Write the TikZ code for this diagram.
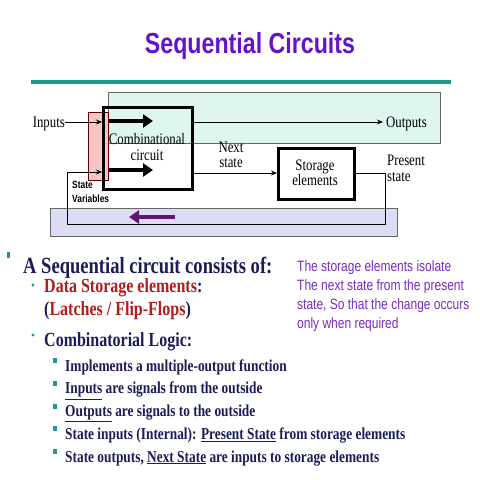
\documentclass[tikz,border=0pt]{standalone}
\usepackage{fontspec}
\usetikzlibrary{arrows.meta}
\newfontfamily\tnr{Liberation Serif}[FakeStretch=0.8]
\newfontfamily\arl{Liberation Sans}[FakeStretch=0.8]
\definecolor{tealline}{HTML}{1E9A8C}
\definecolor{mint}{HTML}{DFF6EF}
\definecolor{pinkbox}{HTML}{F6C6C6}
\definecolor{lavbox}{HTML}{DCDCF4}
\definecolor{arrowpurple}{HTML}{5E1670}
\definecolor{titlepurple}{HTML}{6414C8}
\definecolor{navy}{HTML}{1C1C5A}
\definecolor{darkred}{HTML}{B01E1E}
\definecolor{notepurple}{HTML}{7A2CBE}
\tikzset{
  thinline/.style={draw=black, line width=0.8pt},
  sig/.style={thinline, -{Stealth[length=6pt,width=5pt]}},
  bigarrow/.style={line width=4.5pt, -{Triangle[length=10pt,width=13pt]}},
  blk/.style={draw=black, line width=2.5pt},
  dtext/.style={inner sep=0pt, font=\tnr\fontsize{16}{16}\selectfont},
  svtext/.style={inner sep=0pt, font=\arl\bfseries\fontsize{10.5}{10.5}\selectfont},
  lone/.style={inner sep=0pt, anchor=base west, text=navy, font=\tnr\bfseries\fontsize{23.2}{23.2}\selectfont},
  ltwo/.style={inner sep=0pt, anchor=base west, text=navy, font=\tnr\bfseries\fontsize{20}{20}\selectfont},
  lthree/.style={inner sep=0pt, anchor=base west, text=navy, font=\tnr\bfseries\fontsize{16.7}{16.7}\selectfont},
  note/.style={inner sep=0pt, anchor=base west, text=notepurple, font=\arl\fontsize{15}{15}\selectfont},
  sqbullet/.style={fill=tealline, draw=none},
}
\begin{document}
\begin{tikzpicture}[x=1pt,y=-1pt]
\useasboundingbox (0,0) rectangle (480,480);
\fill[white] (0,0) rectangle (480,480);
% title
\node[inner sep=0pt, anchor=base, text=titlepurple, font=\arl\bfseries\fontsize{29}{29}\selectfont] (title) at (250,53) {Sequential Circuits};
\draw[tealline, line width=4.5pt] (31,82) -- (451,82);
% background boxes
\draw[fill=mint, draw=gray!80!black, line width=0.8pt] (108,92) rectangle (440,143);
\draw[fill=lavbox, draw=gray!80!black, line width=0.8pt] (50,208) rectangle (397,236);
\draw[fill=pinkbox, draw=red!40!black, line width=0.6pt] (88,112) rectangle (108,180);
% blocks
\node[blk, minimum width=89pt, minimum height=82pt, inner sep=0pt, anchor=north west] (comb) at (102,106) {};
\node[blk, minimum width=76pt, minimum height=51pt, inner sep=0pt, anchor=north west] (stor) at (277,147) {};
\node[dtext, anchor=base] (combt1) at (147,144) {Combinational};
\node[dtext, anchor=base] (combt2) at (147,160) {circuit};
\node[dtext, anchor=base] (stort1) at (315,170) {Storage};
\node[dtext, anchor=base] (stort2) at (315,185) {elements};
% labels
\node[dtext, anchor=base east] (inputs) at (65,127) {Inputs};
\node[dtext, anchor=base west] (outputs) at (386,127) {Outputs};
\node[dtext, anchor=base] (ns1) at (231,152) {Next};
\node[dtext, anchor=base] (ns2) at (231,167) {state};
\node[dtext, anchor=base west] (ps1) at (387,165) {Present};
\node[dtext, anchor=base west] (ps2) at (387,181) {state};
\node[svtext, anchor=base west] (sv1) at (72,188) {State};
\node[svtext, anchor=base west] (sv2) at (72,202) {Variables};
% coordinates
\coordinate (inA) at (comb.west |- 0,122);
\coordinate (inB) at (comb.west |- 0,172);
\coordinate (outA) at (comb.east |- 0,122);
\coordinate (outB) at (comb.east |- 0,173);
\coordinate (outEnd) at (383,122);
\coordinate (sOut) at (stor.east |- 0,173);
\coordinate (r1) at (385,173);
\coordinate (r2) at (385,224);
\coordinate (r3) at (67,224);
\coordinate (r4) at (67,172);
% connectors
\draw[sig] (inputs.east |- 0,122) -- (inA);
\draw[sig] (outA) -- (outEnd);
\draw[sig] (outB) -- (stor.west |- 0,173);
\draw[thinline] (sOut) -- (r1) -- (r2) -- (r3) -- (r4);
\draw[sig] (r4) -- (inB);
% thick arrows
\coordinate (ta1) at (109,121);
\coordinate (ta2) at (153,121);
\coordinate (tb1) at (109,170);
\coordinate (tb2) at (153,170);
\draw[bigarrow] (ta1) -- (ta2);
\draw[bigarrow] (tb1) -- (tb2);
\coordinate (pa1) at (175,217);
\coordinate (pa2) at (129,217);
\draw[bigarrow, arrowpurple] (pa1) -- (pa2);
% bullets
\fill[sqbullet] (7,252) rectangle (10,258);
\fill[tealline] (33,285) circle (1.6);
\fill[tealline] (33,335) circle (1.6);
\foreach \k in {0,...,4}{
  \fill[sqbullet] (53,358+\k*22.75) rectangle (57,363+\k*22.75);
}
\node[lone] (l1) at (23,273) {A Sequential circuit consists of:};
\node[ltwo] (l2) at (44,292) {\textcolor{darkred}{Data Storage elements}:};
\node[ltwo] (l3) at (44,315) {(\textcolor{darkred}{Latches / Flip-Flops})};
\node[ltwo] (l4) at (44,346) {Combinatorial Logic:};
\node[lthree] (m1) at (65,371) {Implements a multiple-output function};
\node[lthree] (m2) at (65,393.75) {\underline{Inputs} are signals from the outside};
\node[lthree] (m3) at (65,416.5) {\underline{Outputs} are signals to the outside};
\node[lthree] (m4) at (65,439.25) {State inputs (Internal): \underline{Present State} from storage elements};
\node[lthree] (m5) at (65,462) {State outputs, \underline{Next State} are inputs to storage elements};
% note
\node[note] (n1) at (297,271) {The storage elements isolate};
\node[note] (n2) at (297,290) {The next state from the present};
\node[note] (n3) at (297,309) {state, So that the change occurs};
\node[note] (n4) at (297,328) {only when required};
\end{tikzpicture}
\end{document}
